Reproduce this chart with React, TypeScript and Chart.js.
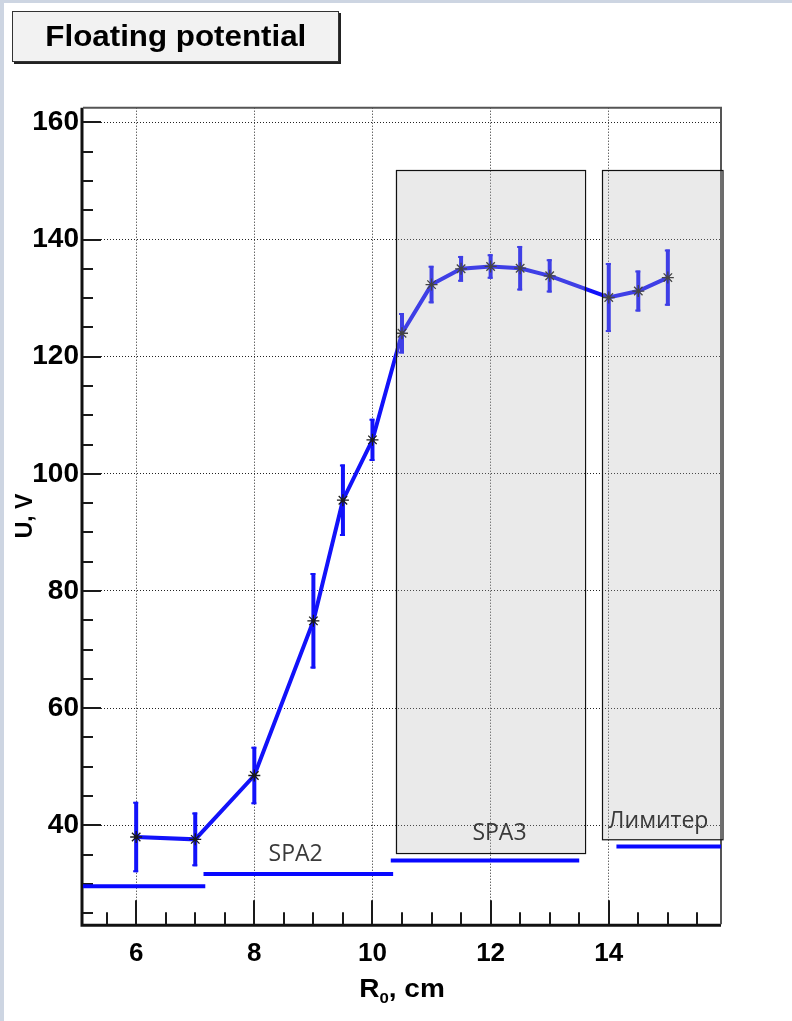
import React, { useEffect, useRef } from "react";
import { Chart, registerables } from "chart.js";

Chart.register(...registerables);

// ---- data ----
const R0 = [6, 7, 8, 9, 9.5, 10, 10.5, 11, 11.5, 12, 12.5, 13, 14, 14.5, 15];
const U = [38, 37.6, 48.5, 74.9, 95.5, 105.8, 124, 132.3, 135, 135.4, 135.1, 133.8, 130.1, 131.2, 133.5];
const UErr = [6, 4.6, 4.9, 8.15, 6.1, 3.6, 3.45, 3.2, 2.2, 2.1, 3.8, 2.85, 5.9, 3.5, 4.8];

// tick values
const xMajorTicks = [6, 8, 10, 12, 14];
const xAllTicks = [5.5, 6, 6.5, 7, 7.5, 8, 8.5, 9, 9.5, 10, 10.5, 11, 11.5, 12, 12.5, 13, 13.5, 14, 14.5, 15, 15.5];
const yMajorTicks = [40, 60, 80, 100, 120, 140, 160];
const yAllTicks = [25, 30, 35, 40, 45, 50, 55, 60, 65, 70, 75, 80, 85, 90, 95, 100, 105, 110, 115, 120, 125, 130, 135, 140, 145, 150, 155, 160];

// axis ranges
const xRange = [5.1, 15.9];
const yRange = [23.1, 162.5];

// probe position lines (horizontal blue segments)
const probeLineStart = [5.1, 7.14, 10.31, 14.13];
const probeLineEnd = [7.17, 10.35, 13.5, 15.9];
const probeLineLevel = [29.6, 31.7, 34.0, 36.4];

// probe labels
const probeLabels = ["SPA2", "SPA3", "Лимитер"];
const probeLabelX = [8.7, 12.15, 14.84];
const probeLabelY = [35.05, 38.6, 40.6];

// shaded boxes
const boxX0 = [10.39, 13.89];
const boxX1 = [13.59, 15.93];
const boxY0 = [35.2, 37.55];
const boxY1 = [151.8, 151.8];

const BLUE = "rgb(18,18,250)";
const LABEL_FONT = "'Liberation Sans', Arial, Helvetica, sans-serif";

export default function App() {
  const ref = useRef<HTMLCanvasElement | null>(null);

  useEffect(() => {
    document.body.style.margin = "0";
    document.body.style.background = "#cdd5e2";
    const canvas = ref.current;
    if (!canvas) return;

    const errorBarPlugin = {
      id: "errorBars",
      beforeDatasetsDraw(chart: any) {
        const { ctx, scales, chartArea } = chart;
        const xs = scales.x;
        const ys = scales.y;
        ctx.save();
        ctx.setLineDash([]);
        // axis lines (solid)
        ctx.strokeStyle = "#111";
        ctx.lineWidth = 3;
        ctx.beginPath();
        ctx.moveTo(chartArea.left - 1, chartArea.top);
        ctx.lineTo(chartArea.left - 1, chartArea.bottom + 1);
        ctx.lineTo(chartArea.right, chartArea.bottom + 1);
        ctx.stroke();
        // top & right frame
        ctx.strokeStyle = "#555";
        ctx.lineWidth = 2;
        ctx.beginPath();
        ctx.moveTo(chartArea.left, chartArea.top);
        ctx.lineTo(chartArea.right, chartArea.top);
        ctx.lineTo(chartArea.right, chartArea.bottom);
        ctx.stroke();
        // inward ticks
        ctx.strokeStyle = "#1a1a1a";
        ctx.lineWidth = 2;
        for (const v of yAllTicks) {
          const py = Math.round(ys.getPixelForValue(v));
          const len = yMajorTicks.includes(v) ? 18 : 10;
          ctx.beginPath();
          ctx.moveTo(chartArea.left, py);
          ctx.lineTo(chartArea.left + len, py);
          ctx.stroke();
        }
        for (const v of xAllTicks) {
          const px = Math.round(xs.getPixelForValue(v));
          const len = xMajorTicks.includes(v) ? 24 : 12;
          ctx.beginPath();
          ctx.moveTo(px, chartArea.bottom);
          ctx.lineTo(px, chartArea.bottom - len);
          ctx.stroke();
        }
        // error bars
        ctx.strokeStyle = BLUE;
        for (let i = 0; i < R0.length; i++) {
          const px = xs.getPixelForValue(R0[i]);
          const pTop = ys.getPixelForValue(U[i] + UErr[i]);
          const pBot = ys.getPixelForValue(U[i] - UErr[i]);
          ctx.lineWidth = 4;
          ctx.beginPath();
          ctx.moveTo(px, pTop);
          ctx.lineTo(px, pBot);
          ctx.stroke();
          ctx.lineWidth = 2;
          ctx.beginPath();
          ctx.moveTo(px - 3, pTop + 1);
          ctx.lineTo(px + 2, pTop + 1);
          ctx.moveTo(px - 3, pBot - 1);
          ctx.lineTo(px + 2, pBot - 1);
          ctx.stroke();
        }
        ctx.restore();
      },
    };

    const overlayPlugin = {
      id: "overlay",
      afterDatasetsDraw(chart: any) {
        const { ctx, scales, chartArea } = chart;
        const xs = scales.x;
        const ys = scales.y;
        ctx.save();
        ctx.setLineDash([]);

        // shaded boxes (semi transparent, over data)
        for (let i = 0; i < boxX0.length; i++) {
          const x0 = xs.getPixelForValue(boxX0[i]);
          const x1 = xs.getPixelForValue(boxX1[i]);
          const y0 = ys.getPixelForValue(boxY1[i]);
          const y1 = ys.getPixelForValue(boxY0[i]);
          ctx.fillStyle = "rgba(178,178,178,0.28)";
          ctx.fillRect(x0, y0, x1 - x0, y1 - y0);
          ctx.strokeStyle = "#111";
          ctx.lineWidth = 1.2;
          ctx.strokeRect(Math.round(x0) + 0.5, Math.round(y0) + 0.5, x1 - x0, y1 - y0);
        }

        // probe labels
        ctx.fillStyle = "#3a3a3a";
        ctx.font = "23px 'Open Sans', 'Noto Sans', sans-serif";
        ctx.textAlign = "center";
        ctx.textBaseline = "middle";
        for (let i = 0; i < probeLabels.length; i++) {
          ctx.fillText(probeLabels[i], xs.getPixelForValue(probeLabelX[i]), ys.getPixelForValue(probeLabelY[i]));
        }

        // x-axis title with subscript
        const cx = (chartArea.left + chartArea.right) / 2;
        const baseY = chartArea.bottom + 73;
        const sx = 1.12;
        ctx.fillStyle = "#000";
        ctx.textAlign = "left";
        ctx.textBaseline = "alphabetic";
        const big = `bold 25px ${LABEL_FONT}`;
        const small = `bold 15px ${LABEL_FONT}`;
        ctx.font = big;
        const wR = ctx.measureText("R").width;
        const wRest = ctx.measureText(", cm").width;
        ctx.font = small;
        const w0 = ctx.measureText("0").width;
        const total = (wR + w0 + wRest) * sx;
        ctx.translate(cx - total / 2, baseY);
        ctx.scale(sx, 1);
        ctx.font = big;
        ctx.fillText("R", 0, 0);
        ctx.font = small;
        ctx.fillText("0", wR, 6);
        ctx.font = big;
        ctx.fillText(", cm", wR + w0, 0);
        ctx.restore();
      },
    };

    const probeDatasets = probeLineStart.map((s, i) => ({
      type: "line" as const,
      data: [
        { x: s, y: probeLineLevel[i] },
        { x: probeLineEnd[i], y: probeLineLevel[i] },
      ],
      borderColor: "rgb(8,8,255)",
      borderWidth: 4,
      pointRadius: 0,
      borderCapStyle: "butt" as const,
      clip: false as any,
      order: 2,
    }));

    const chart = new Chart(canvas, {
      type: "line",
      data: {
        datasets: [
          {
            data: R0.map((x, i) => ({ x, y: U[i] })),
            borderColor: BLUE,
            borderWidth: 4,
            pointStyle: "star",
            pointRadius: 6,
            pointBorderColor: "#1a1a1a",
            pointBorderWidth: 1.3,
            pointBackgroundColor: "#1a1a1a",
            tension: 0,
            order: 1,
          },
          ...probeDatasets,
        ] as any,
      },
      options: {
        responsive: false,
        animation: false,
        events: [],
        layout: { padding: { top: 104.7, right: 71, left: 0, bottom: 0 } },
        plugins: { legend: { display: false }, tooltip: { enabled: false }, title: { display: false } },
        scales: {
          x: {
            type: "linear",
            min: xRange[0],
            max: xRange[1],
            afterBuildTicks: (s: any) => {
              s.ticks = xAllTicks.map((v) => ({ value: v }));
            },
            afterFit: (s: any) => {
              s.height = 96.7;
            },
            ticks: {
              autoSkip: false,
              maxRotation: 0,
              padding: 14,
              color: "#000",
              font: { family: LABEL_FONT, weight: "bold", size: 26 },
              callback: (v: any) => (xMajorTicks.includes(Number(v)) ? String(v) : ""),
            },
            grid: {
              drawTicks: false,
              color: (c: any) => (c.tick && xMajorTicks.includes(c.tick.value) ? "#222" : "rgba(0,0,0,0)"),
              lineWidth: 1,
            },
            border: { display: false, dash: [1, 2] },
          },
          y: {
            type: "linear",
            min: yRange[0],
            max: yRange[1],
            afterBuildTicks: (s: any) => {
              s.ticks = yAllTicks.map((v) => ({ value: v }));
            },
            afterFit: (s: any) => {
              s.width = 79;
            },
            ticks: {
              autoSkip: false,
              padding: 4,
              color: "#000",
              font: { family: LABEL_FONT, weight: "bold", size: 28 },
              callback: (v: any) => (yMajorTicks.includes(Number(v)) ? String(v) : ""),
            },
            grid: {
              drawTicks: false,
              color: (c: any) => (c.tick && yMajorTicks.includes(c.tick.value) ? "#222" : "rgba(0,0,0,0)"),
              lineWidth: 1,
            },
            border: { display: false, dash: [1, 2] },
            title: {
              display: true,
              text: "U, V",
              color: "#000",
              font: { family: LABEL_FONT, weight: "bold", size: 23 },
              padding: { top: 8, bottom: 0 },
            },
          },
        },
      } as any,
      plugins: [errorBarPlugin, overlayPlugin],
    });

    return () => chart.destroy();
  }, []);

  return (
    <div style={{ position: "absolute", left: 4, top: 3, width: 788, height: 1018, background: "#fff", overflow: "hidden" }}>
      <div
        style={{
          position: "absolute",
          left: 8,
          top: 8,
          width: 325,
          height: 49,
          background: "#f2f2f2",
          border: "1px solid #333",
          boxShadow: "2px 2px 0 #222",
          display: "flex",
          alignItems: "center",
          justifyContent: "center",
          fontFamily: LABEL_FONT,
          fontWeight: "bold",
          fontSize: 29,
          color: "#000",
          zIndex: 2,
        }}
      >
        <span style={{ display: "inline-block", transform: "scaleX(1.08)" }}>Floating potential</span>
      </div>
      <canvas ref={ref} width={788} height={1018} style={{ position: "absolute", left: 0, top: 0 }} />
    </div>
  );
}
